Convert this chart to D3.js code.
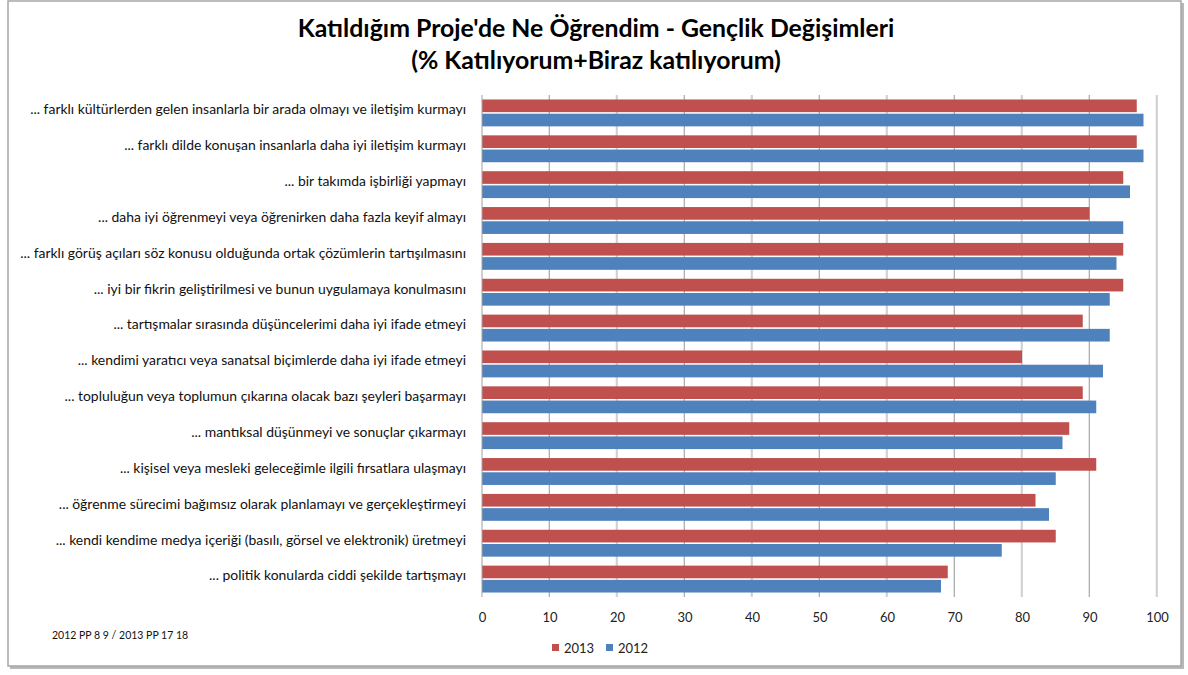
<!DOCTYPE html>
<html>
<head>
<meta charset="utf-8">
<script src="https://cdn.jsdelivr.net/npm/d3@7"></script>
<style>
  html, body { margin: 0; padding: 0; background: #fff; }
  svg { display: block; font-family: Lato, "Open Sans", sans-serif; }
</style>
</head>
<body>
<svg id="chart" width="1188" height="675"></svg>
<script>
// chart data
var categories = [
  "... farklı kültürlerden gelen insanlarla bir arada olmayı ve iletişim kurmayı",
  "... farklı dilde konuşan insanlarla daha iyi iletişim kurmayı",
  "... bir takımda işbirliği yapmayı",
  "... daha iyi öğrenmeyi veya öğrenirken daha fazla keyif almayı",
  "... farklı görüş açıları söz konusu olduğunda ortak çözümlerin tartışılmasını",
  "... iyi bir fikrin geliştirilmesi ve bunun uygulamaya konulmasını",
  "... tartışmalar sırasında düşüncelerimi daha iyi ifade etmeyi",
  "... kendimi yaratıcı veya sanatsal biçimlerde daha iyi ifade etmeyi",
  "... topluluğun veya toplumun çıkarına olacak bazı şeyleri başarmayı",
  "... mantıksal düşünmeyi ve sonuçlar çıkarmayı",
  "... kişisel veya mesleki geleceğimle ilgili fırsatlara ulaşmayı",
  "... öğrenme sürecimi bağımsız olarak planlamayı ve gerçekleştirmeyi",
  "... kendi kendime medya içeriği (basılı, görsel ve elektronik) üretmeyi",
  "... politik konularda ciddi şekilde tartışmayı"
];
var values2013 = [97, 97, 95, 90, 95, 95, 89, 80, 89, 87, 91, 82, 85, 69];
var values2012 = [98, 98, 96, 95, 94, 93, 93, 92, 91, 86, 85, 84, 77, 68];
var seriesNames = ["2013", "2012"];
var seriesColors = ["#C0504D", "#4F81BD"];
var xTicks = [0, 10, 20, 30, 40, 50, 60, 70, 80, 90, 100];
var titleLines = ["Katıldığım Proje'de Ne Öğrendim - Gençlik Değişimleri", "(% Katılıyorum+Biraz katılıyorum)"];
var sourceNote = "2012 PP 8 9 / 2013 PP 17 18";

var svg = d3.select("#chart");

// outer frame with a soft shadow
svg.append("rect").attr("x", 10).attr("y", 3).attr("width", 1174).attr("height", 666).attr("fill", "#b8b8b8");
svg.append("rect").attr("x", 8).attr("y", 1).attr("width", 1173).attr("height", 665)
  .attr("fill", "#fff").attr("stroke", "#a6a6a6").attr("stroke-width", 1.5);

var plotLeft = 482, plotRight = 1157, plotTop = 95, plotBottom = 597;

var x = d3.scaleLinear().domain([0, 100]).range([plotLeft, plotRight]);
var y = d3.scaleBand().domain(categories).range([plotTop, plotBottom]).paddingInner(0.25).paddingOuter(0.125);
var ySub = d3.scaleBand().domain(seriesNames).range([0, y.bandwidth()]).paddingInner(0.11);

// gridlines
var grid = svg.append("g");
grid.selectAll("line.shadow").data(xTicks.slice(1)).enter().append("line")
  .attr("class", "shadow")
  .attr("x1", function(d) { return x(d) - 1; }).attr("x2", function(d) { return x(d) - 1; })
  .attr("y1", plotTop).attr("y2", plotBottom)
  .attr("stroke", "#e4e4e4").attr("stroke-width", 1);
grid.selectAll("line.main").data(xTicks.slice(1)).enter().append("line")
  .attr("class", "main")
  .attr("x1", function(d) { return x(d); }).attr("x2", function(d) { return x(d); })
  .attr("y1", plotTop).attr("y2", plotBottom)
  .attr("stroke", "#b0b0b0").attr("stroke-width", 1);

// bars
var rows = categories.map(function(c, i) {
  return { cat: c, vals: [values2013[i], values2012[i]] };
});
var groups = svg.append("g").selectAll("g").data(rows).enter().append("g")
  .attr("transform", function(d) { return "translate(0," + y(d.cat) + ")"; });
groups.selectAll("rect").data(function(d) {
    return d.vals.map(function(v, j) { return { name: seriesNames[j], value: v, color: seriesColors[j] }; });
  }).enter().append("rect")
  .attr("x", x(0))
  .attr("y", function(d) { return ySub(d.name); })
  .attr("width", function(d) { return x(d.value) - x(0); })
  .attr("height", ySub.bandwidth())
  .attr("fill", function(d) { return d.color; });

// left axis line
svg.append("line").attr("x1", plotLeft).attr("x2", plotLeft).attr("y1", plotTop).attr("y2", plotBottom)
  .attr("stroke", "#a0a0a0").attr("stroke-width", 1);

// bottom axis labels
var xAxis = svg.append("g").attr("transform", "translate(0," + (plotBottom + 16) + ")")
  .call(d3.axisBottom(x).tickValues(xTicks).tickSize(0).tickPadding(0));
xAxis.select(".domain").remove();
xAxis.selectAll("text").attr("font-size", 13).attr("fill", "#222").attr("font-family", "Lato, sans-serif");

// category labels
var yAxis = svg.append("g").attr("transform", "translate(" + (plotLeft - 16) + ",0)")
  .call(d3.axisLeft(y).tickSize(0).tickPadding(0));
yAxis.select(".domain").remove();
var labels = yAxis.selectAll("text").attr("font-family", "Lato, sans-serif").attr("fill", "#111")
  .attr("dy", "0.1em").attr("font-size", 12);
// fit label size so the longest one spans like the original
var longest = d3.max(labels.nodes(), function(n) { return n.getComputedTextLength(); });
labels.attr("font-size", 12 * 446 / longest);

// title
var title = svg.append("g");
title.selectAll("text").data(titleLines).enter().append("text")
  .attr("x", 596).attr("y", function(d, i) { return 37 + i * 32; })
  .attr("text-anchor", "middle").attr("font-weight", "bold").attr("font-size", 22)
  .attr("fill", "#000").text(function(d) { return d; });
var t0 = title.select("text").node().getComputedTextLength();
title.selectAll("text").attr("font-size", 22 * 597 / t0);

// source note
svg.append("text").attr("x", 52).attr("y", 639).attr("font-size", 10.5).attr("fill", "#111")
  .text(sourceNote);

// legend
var legend = svg.append("g").attr("transform", "translate(552,648)");
var item = legend.selectAll("g").data(seriesNames).enter().append("g")
  .attr("transform", function(d, i) { return "translate(" + (i * 54) + ",0)"; });
item.append("rect").attr("x", 0).attr("y", -4).attr("width", 7).attr("height", 7)
  .attr("fill", function(d, i) { return seriesColors[i]; });
item.append("text").attr("x", 12).attr("y", 5).attr("font-size", 13).attr("fill", "#222")
  .text(function(d) { return d; });
</script>
</body>
</html>
